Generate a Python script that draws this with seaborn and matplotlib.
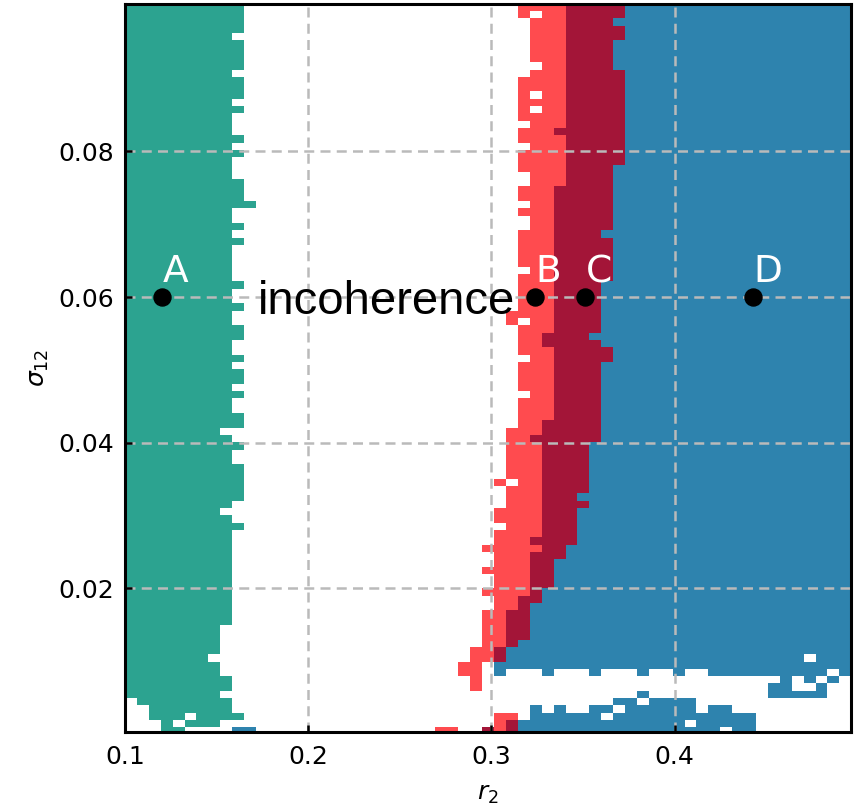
import numpy as np
import matplotlib
matplotlib.use("Agg")
import matplotlib.pyplot as plt
from matplotlib.colors import ListedColormap
import seaborn as sns

# ---------------------------------------------------------------- grid
r2_edges = 0.1 + 0.0065 * np.arange(62)            # 61 columns in r2
sigma_edges = np.linspace(-0.00013, 0.1003, 101)    # 100 rows in sigma_12

WHITE, TEAL, RED, DARK, BLUE = 0, 1, 2, 3, 4
regime_colors = ["#ffffff", "#2ca390", "#ff4b4f", "#a31538", "#2e83ae"]
codes = {".": WHITE, "t": TEAL, "r": RED, "d": DARK, "b": BLUE}

# lowest sigma rows (0..8), run-length encoded along r2
low_rows = [
    "3. 2t 4. 2b 15. 2r 2. 1d 1r 1d 17b 1. 2b 8.",
    "3. 1t 1. 3t 23. 1r 1d 14b 1. 5b 8.",
    "2. 3t 1. 4t 21. 2r 1. 6b 1. 12b 8.",
    "2. 7t 25. 1b 1. 1b 2. 2b 1. 6b 1. 2b 10.",
    "1. 8t 32. 2b 1. 4b 13.",
    "8t 35. 1b 10. 5b 2.",
    "9t 20. 1r 24. 2b 2. 1b 2.",
    "9t 20. 1r 25. 1b 1. 1b 1. 1b 1.",
    "8t 20. 2r 1. 1b 3. 1b 3. 1b 3. 1b 2. 1b 2. 10b 1. 1b",
]

# rows 9..99: column index where each regime starts / ends
first_row = 9
teal_end = [
    8, 7, 8, 8, 8, 8, 9, 9, 9, 9,
    9, 9, 9, 9, 9, 9, 9, 9, 9, 10,
    9, 8, 9, 10, 10, 10, 10, 10, 9, 9,
    10, 9, 8, 10, 10, 9, 9, 10, 9, 10,
    10, 9, 10, 9, 9, 10, 10, 9, 9, 10,
    9, 9, 10, 9, 9, 9, 9, 9, 10, 9,
    10, 9, 9, 11, 10, 10, 10, 9, 9, 9,
    10, 9, 10, 9, 9, 9, 10, 9, 10, 10,
    10, 9, 10, 10, 10, 10, 9, 10, 10, 10, 10,
]
red_start = [
    28, 29, 29, 30, 30, 30, 30, 30, 31, 31,
    30, 31, 31, 30, 31, 31, 30, 31, 31, 32,
    31, 31, 32, 32, 32, 31, 32, 32, 32, 32,
    32, 32, 32, 33, 33, 33, 33, 34, 33, 33,
    33, 33, 34, 33, 33, 33, 33, 32, 32, 33,
    33, 33, 33, 33, 34, 33, 33, 33, 33, 33,
    34, 34, 33, 34, 33, 33, 34, 34, 33, 33,
    33, 34, 33, 33, 34, 33, 33, 33, 33, 33,
    33, 34, 35, 34, 34, 34, 34, 34, 34, 33, 33,
]
dark_start = [
    30, 31, 31, 32, 32, 32, 32, 32, 33, 33,
    34, 34, 34, 34, 34, 34, 35, 34, 35, 35,
    35, 35, 35, 35, 35, 35, 35, 35, 35, 35,
    35, 34, 35, 35, 36, 36, 36, 36, 36, 36,
    36, 36, 36, 36, 35, 35, 36, 36, 36, 36,
    36, 36, 36, 36, 36, 36, 36, 36, 36, 36,
    36, 36, 36, 36, 36, 36, 37, 37, 37, 37,
    37, 37, 37, 36, 37, 37, 37, 37, 37, 37,
    37, 37, 37, 37, 37, 37, 37, 37, 37, 37, 37,
]
blue_start = [
    31, 32, 32, 33, 34, 34, 34, 34, 34, 35,
    35, 36, 36, 36, 36, 37, 37, 38, 38, 38,
    38, 38, 39, 38, 39, 39, 39, 39, 39, 39,
    39, 40, 40, 40, 40, 40, 40, 40, 40, 40,
    40, 40, 41, 41, 40, 39, 40, 40, 40, 40,
    40, 40, 40, 41, 41, 41, 41, 41, 41, 40,
    41, 41, 41, 41, 41, 41, 41, 41, 41, 42,
    42, 42, 42, 42, 42, 42, 42, 42, 42, 42,
    42, 42, 41, 41, 41, 41, 42, 42, 41, 42, 42,
]
# isolated cells off the regime boundaries: (row, column, regime)
holes = [(9, 30, WHITE), (10, 57, WHITE), (34, 32, WHITE), (56, 33, WHITE),
         (85, 34, WHITE), (87, 34, WHITE), (98, 34, WHITE)]

# marked parameter points
point_r2 = [0.12, 0.3237, 0.351, 0.4426]
point_sigma = [0.06, 0.06, 0.06, 0.06]
point_names = ["A", "B", "C", "D"]

x_ticks = [0.1, 0.2, 0.3, 0.4]
y_ticks = [0.02, 0.04, 0.06, 0.08]

# ---------------------------------------------------------------- build map
n_cols = len(r2_edges) - 1
n_rows = len(sigma_edges) - 1
regime = np.zeros((n_rows, n_cols), dtype=int)
for i, spec in enumerate(low_rows):
    cells = []
    for run in spec.split():
        cells += [codes[run[-1]]] * int(run[:-1])
    regime[i] = cells
for k, (t, r, d, b) in enumerate(zip(teal_end, red_start, dark_start, blue_start)):
    i = first_row + k
    regime[i, :t] = TEAL
    regime[i, r:d] = RED
    regime[i, d:b] = DARK
    regime[i, b:] = BLUE
for i, j, c in holes:
    regime[i, j] = c


def to_u(x):
    return np.interp(x, r2_edges, np.arange(n_cols + 1))


def to_v(y):
    return np.interp(y, sigma_edges, np.arange(n_rows + 1))


# ---------------------------------------------------------------- draw
sns.set_style("white")
plt.rcParams["font.family"] = ["DejaVu Sans"]
plt.rcParams["mathtext.fontset"] = "dejavusans"
plt.rcParams["text.color"] = "black"
plt.rcParams["axes.labelcolor"] = "black"

fig = plt.figure(figsize=(8.59, 8.10), dpi=100)
ax = fig.add_axes([0.1455, 0.0963, 0.8455, 0.8991])

sns.heatmap(regime, cmap=ListedColormap(regime_colors), vmin=-0.5, vmax=4.5,
            cbar=False, ax=ax, xticklabels=False, yticklabels=False)
ax.set_xlim(0, n_cols)
ax.set_ylim(0.36, n_rows)

ax.set_xticks(to_u(x_ticks))
ax.set_xticklabels([f"{t:g}" for t in x_ticks], rotation=0)
ax.set_yticks(to_v(y_ticks))
ax.set_yticklabels([f"{t:g}" for t in y_ticks], rotation=0)
ax.tick_params(direction="in", length=5, width=1.8, color="black",
               labelcolor="black", labelsize=18, pad=9.5,
               bottom=True, left=True, top=False, right=False)
ax.tick_params(axis="y", pad=8)

ax.grid(True, color="#bababa", linestyle=(0, (4, 2.5)), linewidth=1.8)
ax.set_axisbelow(False)

for sp in ax.spines.values():
    sp.set_visible(True)
    sp.set_color("black")
    sp.set_linewidth(2.2)
    sp.set_zorder(10)

ax.scatter(to_u(point_r2), to_v(point_sigma), s=150, color="black", zorder=5)
for x, y, name in zip(point_r2, point_sigma, point_names):
    ax.annotate(name, (to_u(x), to_v(y)), xytext=(0.5, 10.5),
                textcoords="offset points", color="white", fontsize=27,
                ha="left", va="baseline", zorder=6)

ax.text(to_u(0.1726), to_v(0.0577), "incoherence", fontsize=34,
        family=["Liberation Sans", "DejaVu Sans"], color="black",
        ha="left", va="baseline", zorder=6)

ax.set_xlabel("$r_2$", fontsize=18, labelpad=9, color="black")
ax.set_ylabel(r"$\sigma_{12}$", fontsize=18, labelpad=5, color="black")

fig.savefig("out.png", dpi=100)
